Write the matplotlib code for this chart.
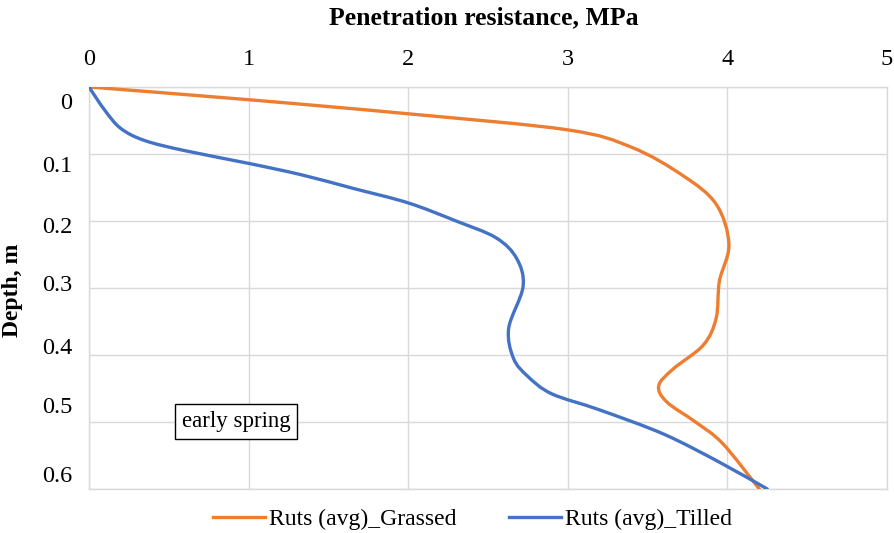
import matplotlib.pyplot as plt
from matplotlib.path import Path
from matplotlib.patches import PathPatch
from matplotlib.transforms import blended_transform_factory

plt.rcParams['font.family'] = ['Liberation Serif', 'DejaVu Serif']

# values
grassed_x = [0.0, 1.0, 2.0, 3.0, 3.4, 3.72, 3.93, 4.01, 3.95, 3.93,
             3.85, 3.66, 3.57, 3.62, 3.8, 3.97, 4.2]
grassed_y = [0.0, 0.019, 0.040, 0.064, 0.09, 0.132, 0.175, 0.235, 0.29,
             0.345, 0.385, 0.421, 0.446, 0.47, 0.5, 0.532, 0.6]
tilled_x = [0.0, 0.1, 0.2, 0.35, 0.6, 1.0, 1.33, 1.65, 2.0, 2.3, 2.55,
            2.68, 2.72, 2.63, 2.66, 2.75, 2.9, 3.2, 3.6, 3.95, 4.25]
tilled_y = [0.0, 0.035, 0.062, 0.08, 0.095, 0.114, 0.131, 0.151, 0.173,
            0.2, 0.225, 0.256, 0.298, 0.36, 0.405, 0.432, 0.458, 0.482,
            0.518, 0.56, 0.6]
x_ticks = [0, 1, 2, 3, 4, 5]
depth_ticks = [0, 0.1, 0.2, 0.3, 0.4, 0.5, 0.6]
depth_labels = ['0', '0.1', '0.2', '0.3', '0.4', '0.5', '0.6']
# the labels in the source sit a bit off their gridlines
depth_label_pos = [0.024, 0.118, 0.209, 0.296, 0.390, 0.479, 0.582]


def smooth_path(xs, ys):
	# excel style smoothed line: bezier segments through the points
	pts = list(zip(xs, ys))
	n = len(pts)
	verts = [pts[0]]
	codes = [Path.MOVETO]
	for i in range(n - 1):
		p0 = pts[i - 1] if i > 0 else pts[i]
		p1 = pts[i]
		p2 = pts[i + 1]
		p3 = pts[i + 2] if i + 2 < n else pts[i + 1]
		c1 = (p1[0] + (p2[0] - p0[0]) / 6, p1[1] + (p2[1] - p0[1]) / 6)
		c2 = (p2[0] - (p3[0] - p1[0]) / 6, p2[1] - (p3[1] - p1[1]) / 6)
		verts += [c1, c2, p2]
		codes += [Path.CURVE4] * 3
	return Path(verts, codes)


def main():
	fig = plt.figure(figsize=(8.95, 5.33), dpi=100)
	ax = fig.add_axes([0.0994, 0.0826, 0.8916, 0.7542])

	series = [
		(grassed_x, grassed_y, '#ED7D31', 'Ruts (avg)_Grassed'),
		(tilled_x, tilled_y, '#4472C4', 'Ruts (avg)_Tilled'),
	]
	for xs, ys, col, lab in series:
		ax.add_patch(PathPatch(smooth_path(xs, ys), fc='none', ec=col,
				lw=2.4, capstyle='round', joinstyle='round', zorder=3))
		ax.plot([], [], color=col, lw=2.4, label=lab)

	ax.set_xlim(0, 5)
	ax.set_ylim(0.6, 0)
	ax.set_xticks(x_ticks)
	ax.set_yticks(depth_ticks)
	ax.set_yticklabels([])
	ax.xaxis.tick_top()
	ax.tick_params(axis='x', length=0, pad=12, labelsize=17.5)
	ax.tick_params(axis='y', length=0)
	ax.grid(True, color='#D9D9D9', lw=1)
	ax.set_axisbelow(True)
	for s in ax.spines.values():
		s.set_color('#D9D9D9')
		s.set_linewidth(1)

	trans = blended_transform_factory(ax.transAxes, ax.transData)
	for lab, pos in zip(depth_labels, depth_label_pos):
		ax.text(-0.021, pos, lab, transform=trans, ha='right', va='center',
				fontsize=17.5)

	fig.text(0.541, 0.966, 'Penetration resistance, MPa', ha='center',
			va='center', fontsize=18.5, fontweight='bold')
	fig.text(0.014, 0.455, 'Depth, m', ha='center', va='center',
			rotation=90, fontsize=17, fontweight='bold')

	ax.text(0.1165, 0.1675, 'early spring', transform=ax.transAxes, ha='left',
			va='center', fontsize=16.5,
			bbox=dict(boxstyle='square,pad=0.3', fc='white', ec='black', lw=1))

	fig.legend(loc='center', bbox_to_anchor=(0.528, 0.026), ncol=2,
			frameon=False, fontsize=17, handlelength=2.2, columnspacing=2.2,
			handletextpad=0.2)

	fig.savefig('out.png', dpi=100)


if __name__ == "__main__":
	main()
